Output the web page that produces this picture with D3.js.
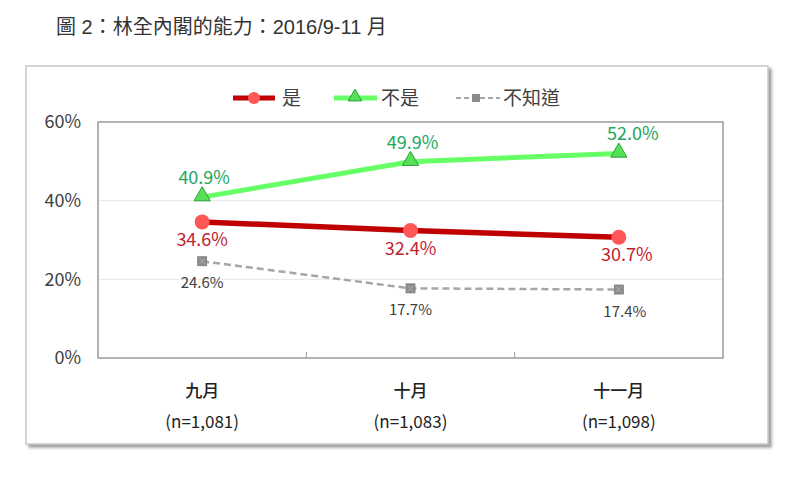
<!DOCTYPE html>
<html><head><meta charset="utf-8">
<script src="https://cdn.jsdelivr.net/npm/d3@7"></script>
<style>
body{margin:0;background:#fff;}
svg{display:block;font-family:"Noto Sans CJK TC","Noto Sans",sans-serif;}
</style></head>
<body><svg id="c" width="800" height="483"></svg>
<script>
const title = "圖 2：林全內閣的能力：2016/9-11 月";
const categories = ["九月","十月","十一月"];
const sampleSizes = ["(n=1,081)","(n=1,083)","(n=1,098)"];
const seriesNames = ["是","不是","不知道"];
const yesValues = [34.6, 32.4, 30.7];
const noValues = [40.9, 49.9, 52.0];
const dkValues = [24.6, 17.7, 17.4];
const yTicks = [0, 20, 40, 60];

const svg = d3.select("#c");
const plot = {l:98, r:723, t:122, b:358};
const cjk = '"Noto Sans CJK TC",sans-serif';

// title
svg.append("text").attr("x",56).attr("y",34).attr("font-size",20).attr("fill","#333")
  .attr("font-family",'"Liberation Sans","Noto Sans CJK TC",sans-serif')
  .text(title);

// outer frame with shadow
const defs = svg.append("defs");
const f = defs.append("filter").attr("id","sh").attr("x","-5%").attr("y","-5%").attr("width","115%").attr("height","115%");
f.append("feDropShadow").attr("dx",3).attr("dy",3).attr("stdDeviation",1.5).attr("flood-color","#777").attr("flood-opacity",0.7);
svg.append("rect").attr("x",26).attr("y",66).attr("width",742).attr("height",378)
  .attr("fill","#fff").attr("stroke","#c8c8c8").attr("stroke-width",1.5).attr("filter","url(#sh)");

const x = d3.scaleBand().domain(categories).range([plot.l, plot.r]);
const y = d3.scaleLinear().domain([0,60]).range([plot.b, plot.t]);
const cx = d => x(d) + x.bandwidth()/2;

// gridlines
svg.append("g").selectAll("line").data(yTicks.filter(t=>t>0 && t<60)).join("line")
  .attr("x1",plot.l).attr("x2",plot.r).attr("y1",d=>y(d)).attr("y2",d=>y(d))
  .attr("stroke","#e6e6e6").attr("stroke-width",1);

// plot border
svg.append("rect").attr("x",plot.l).attr("y",plot.t).attr("width",plot.r-plot.l).attr("height",plot.b-plot.t)
  .attr("fill","none").attr("stroke","#9a9a9a").attr("stroke-width",1.5);

// x tick marks between categories (inside)
svg.append("g").selectAll("line").data(categories.slice(1)).join("line")
  .attr("x1",d=>x(d)).attr("x2",d=>x(d)).attr("y1",plot.b).attr("y2",plot.b-6)
  .attr("stroke","#9a9a9a").attr("stroke-width",1);

// y axis labels
const yAxis = d3.axisLeft(y).tickValues(yTicks).tickFormat(d=>d+"%").tickSize(0).tickPadding(0);
const gy = svg.append("g").attr("transform",`translate(${plot.l-17},0)`).call(yAxis);
gy.select(".domain").remove();
gy.selectAll("text").attr("font-size",18).attr("fill","#404040").attr("font-family",cjk);

// x axis labels
const xAxis = d3.axisBottom(x).tickSize(0).tickPadding(0);
const gx = svg.append("g").attr("transform",`translate(0,${plot.b})`).call(xAxis);
gx.select(".domain").remove();
gx.selectAll("text").attr("font-size",17).attr("fill","#222").attr("dy",null).attr("y",39).attr("font-weight","500")
  .attr("font-family",cjk);
svg.append("g").selectAll("text").data(categories).join("text")
  .attr("x",d=>cx(d)).attr("y",plot.b+70).attr("text-anchor","middle").attr("font-size",17).attr("fill","#222")
  .text((d,i)=>sampleSizes[i]);

const line = d3.line().x((d,i)=>cx(categories[i])).y(d=>y(d));

// 不知道 dashed
svg.append("path").attr("d",line(dkValues)).attr("fill","none").attr("stroke","#a6a6a6").attr("stroke-width",2.5).attr("stroke-dasharray","7,4");
const dkG = svg.append("g").selectAll("g").data(dkValues).join("g")
  .attr("transform",(d,i)=>`translate(${cx(categories[i])},${y(d)})`);
dkG.append("rect").attr("x",-4.5).attr("y",-4.5).attr("width",9).attr("height",9)
  .attr("fill","#8c8c8c").attr("stroke","#7a7a7a").attr("stroke-width",0.8);
dkG.append("path").attr("d","M-3,-3L3,3M3,-3L-3,3").attr("stroke","#b0b0b0").attr("stroke-width",1);

// 是 red
svg.append("path").attr("d",line(yesValues)).attr("fill","none").attr("stroke","#c00000").attr("stroke-width",5.5);
svg.append("g").selectAll("circle").data(yesValues).join("circle")
  .attr("cx",(d,i)=>cx(categories[i])).attr("cy",d=>y(d)).attr("r",7.5)
  .attr("fill","#ff5757");

// 不是 green
svg.append("path").attr("d",line(noValues)).attr("fill","none").attr("stroke","#66ff66").attr("stroke-width",5);
const tri = d3.symbol().type(d3.symbolTriangle).size(115);
svg.append("g").selectAll("path").data(noValues).join("path")
  .attr("d",tri).attr("transform",(d,i)=>`translate(${cx(categories[i])},${y(d)-1})`)
  .attr("fill","#55e055").attr("stroke","#2e9e3e").attr("stroke-width",1);

// data labels
svg.append("g").selectAll("text").data(noValues).join("text")
  .attr("x",(d,i)=>cx(categories[i])+(i===2?14:2)).attr("y",d=>y(d)-13).attr("text-anchor","middle")
  .attr("font-size",18).attr("fill","#23a660").text(d=>d.toFixed(1)+"%");
svg.append("g").selectAll("text").data(yesValues).join("text")
  .attr("x",(d,i)=>cx(categories[i])+(i===2?8:0)).attr("y",d=>y(d)+24).attr("text-anchor","middle")
  .attr("font-size",18).attr("fill","#c0232e").text(d=>d.toFixed(1)+"%");
svg.append("g").selectAll("text").data(dkValues).join("text")
  .attr("x",(d,i)=>cx(categories[i])+(i===2?6:0)).attr("y",d=>y(d)+27).attr("text-anchor","middle")
  .attr("font-size",15).attr("fill","#404040").text(d=>d.toFixed(1)+"%");

// legend
const lg = svg.append("g");
const ly = 98;
lg.append("line").attr("x1",233).attr("x2",275).attr("y1",ly).attr("y2",ly).attr("stroke","#c00000").attr("stroke-width",5);
lg.append("circle").attr("cx",254).attr("cy",ly).attr("r",6).attr("fill","#ff5757");
lg.append("text").attr("x",282).attr("y",ly+7).attr("font-size",19).attr("fill","#404040").text(seriesNames[0]);
lg.append("line").attr("x1",334).attr("x2",377).attr("y1",ly).attr("y2",ly).attr("stroke","#66ff66").attr("stroke-width",5);
lg.append("path").attr("d",d3.symbol().type(d3.symbolTriangle).size(80)).attr("transform",`translate(355,${ly-1})`)
  .attr("fill","#55e055").attr("stroke","#2e9e3e").attr("stroke-width",1);
lg.append("text").attr("x",381).attr("y",ly+7).attr("font-size",19).attr("fill","#404040").text(seriesNames[1]);
lg.append("line").attr("x1",456).attr("x2",500).attr("y1",ly).attr("y2",ly).attr("stroke","#a6a6a6").attr("stroke-width",2).attr("stroke-dasharray","5,3");
lg.append("rect").attr("x",472).attr("y",ly-4).attr("width",8).attr("height",8).attr("fill","#8c8c8c");
lg.append("text").attr("x",503).attr("y",ly+7).attr("font-size",19).attr("fill","#404040").text(seriesNames[2]);
</script></body></html>
